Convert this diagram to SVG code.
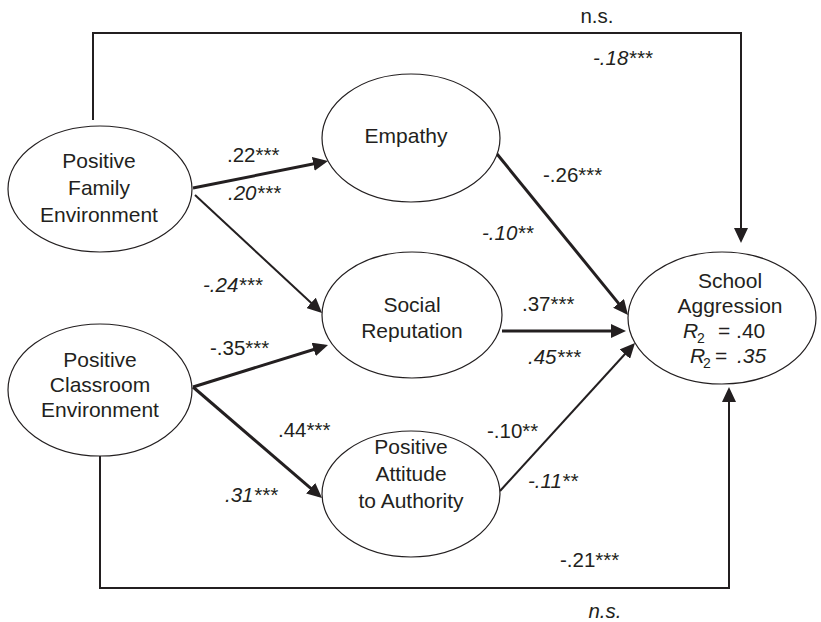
<svg xmlns="http://www.w3.org/2000/svg" width="821" height="622" viewBox="0 0 821 622">
<style>
  .node ellipse { fill: #ffffff; stroke: #231f20; stroke-width: 1.2; }
  .node text { font-family: "Liberation Sans", Arial, sans-serif; font-size: 21px; fill: #231f20; text-anchor: middle; }
  .lbl { font-family: "Liberation Sans", Arial, sans-serif; font-size: 20.5px; fill: #231f20; }
  .it { font-style: italic; }
  .thick { fill: none; stroke: #231f20; stroke-width: 3; marker-end: url(#arr); }
  .thin { fill: none; stroke: #231f20; stroke-width: 2; marker-end: url(#arr); }
  .path { fill: none; stroke: #231f20; stroke-width: 2; }
</style>
<defs>
  <marker id="arr" viewBox="0 0 15 14" refX="11" refY="7" markerWidth="15" markerHeight="14" markerUnits="userSpaceOnUse" orient="auto">
    <path d="M0,0 L15,7 L0,14 z" fill="#231f20"/>
  </marker>
</defs>
<rect width="821" height="622" fill="#ffffff"/>

<g id="connectors">
  <path class="path" d="M93,120 V33 H741 V239" marker-end="url(#arr)"/>
  <path class="path" d="M100,456 V588 H729 V391" marker-end="url(#arr)"/>
  <path class="thick" d="M193,188 L324.1,161.8"/>
  <path class="thin" d="M195,195 L319.1,310.3"/>
  <path class="thick" d="M193,387 L324.2,346.2"/>
  <path class="thick" d="M193,387 L319,495.4"/>
  <path class="thick" d="M497,154 L625.5,311.9"/>
  <path class="thick" d="M502,331 L622,331"/>
  <path class="thin" d="M500,491 L632.3,346"/>
</g>

<g id="labels">
  <text class="lbl" x="597" y="23" text-anchor="middle">n.s.</text>
  <text class="lbl it" x="593" y="65">-.18***</text>
  <text class="lbl" x="227" y="162">.22***</text>
  <text class="lbl it" x="228" y="200">.20***</text>
  <text class="lbl" x="543" y="182">-.26***</text>
  <text class="lbl it" x="482" y="240">-.10**</text>
  <text class="lbl it" x="203" y="292">-.24***</text>
  <text class="lbl" x="210" y="355">-.35***</text>
  <text class="lbl" x="522" y="311">.37***</text>
  <text class="lbl it" x="528" y="364">.45***</text>
  <text class="lbl" x="278" y="437">.44***</text>
  <text class="lbl it" x="225" y="502">.31***</text>
  <text class="lbl" x="487" y="438">-.10**</text>
  <text class="lbl it" x="528" y="488">-.11**</text>
  <text class="lbl" x="560" y="567">-.21***</text>
  <text class="lbl it" x="605" y="618" text-anchor="middle">n.s.</text>
</g>

<g id="pfe" class="node">
  <ellipse cx="100" cy="189" rx="92" ry="63"/>
  <text x="99" y="168">Positive</text>
  <text x="99" y="195">Family</text>
  <text x="99" y="222">Environment</text>
</g>

<g id="pce" class="node">
  <ellipse cx="100" cy="390" rx="92" ry="66"/>
  <text x="100" y="367">Positive</text>
  <text x="100" y="392">Classroom</text>
  <text x="100" y="417">Environment</text>
</g>

<g id="empathy" class="node">
  <ellipse cx="411" cy="138" rx="89" ry="64"/>
  <text x="406" y="143">Empathy</text>
</g>

<g id="social" class="node">
  <ellipse cx="412" cy="315" rx="90" ry="63"/>
  <text x="412" y="312">Social</text>
  <text x="412" y="338">Reputation</text>
</g>

<g id="authority" class="node">
  <ellipse cx="411" cy="494" rx="89" ry="63"/>
  <text x="411" y="454">Positive</text>
  <text x="411" y="481">Attitude</text>
  <text x="411" y="508">to Authority</text>
</g>

<g id="aggression" class="node">
  <ellipse cx="722" cy="318" rx="94" ry="66"/>
  <text x="730" y="288">School</text>
  <text x="730" y="313">Aggression</text>
  <text y="338" style="text-anchor:start"><tspan x="683" font-style="italic">R</tspan><tspan x="697" y="343" font-size="14">2</tspan><tspan x="718" y="338">= .40</tspan></text>
  <text y="363" style="text-anchor:start"><tspan x="690" font-style="italic">R</tspan><tspan x="703" y="368" font-size="14">2</tspan><tspan x="715" y="363">=</tspan><tspan x="737" y="363" font-style="italic">.35</tspan></text>
</g>
</svg>
